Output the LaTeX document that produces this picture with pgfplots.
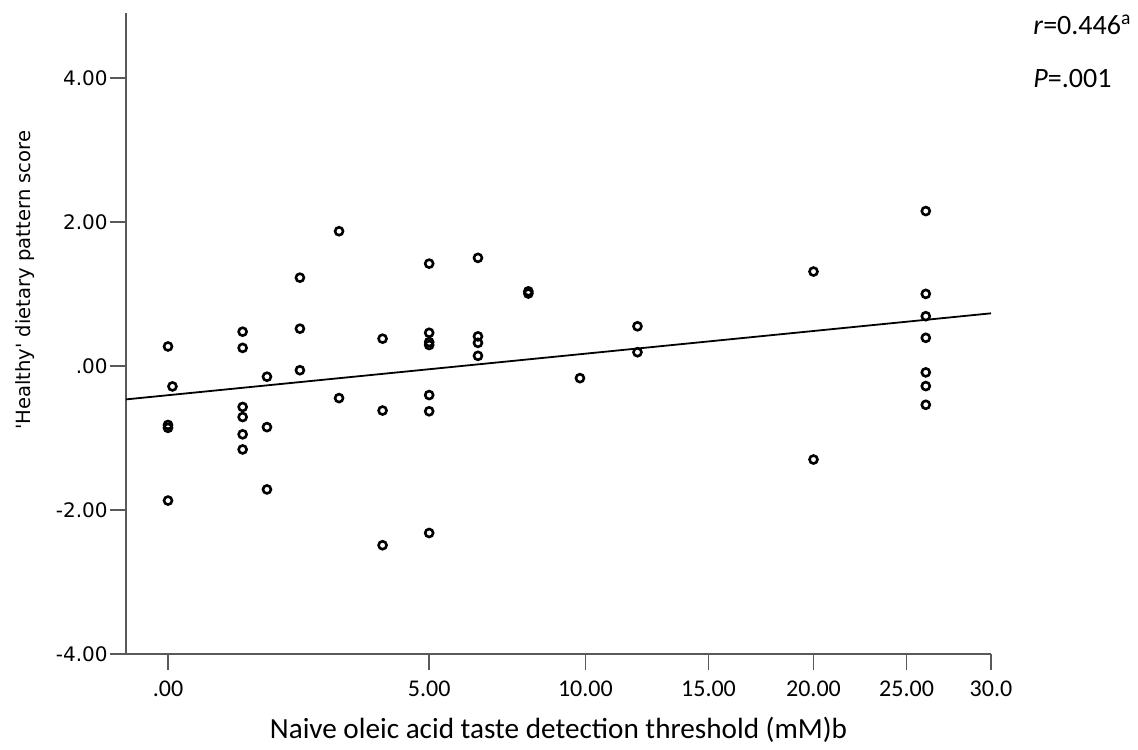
\documentclass[border=0pt]{standalone}
\usepackage{fontspec}
\setmainfont{DejaVu Sans}
\newfontfamily\carlito{Carlito}
\usepackage{pgfplots}
\pgfplotsset{compat=1.18}

% threshold (mM) vs healthy pattern score
\pgfplotstableread[row sep=\\]{
x y\\
0 0.27\\ 0 -0.82\\ 0 -0.86\\ 0 -1.87\\ 0.05 -0.285\\
1 0.475\\ 1 0.25\\ 1 -0.57\\ 1 -0.71\\ 1 -0.95\\ 1 -1.16\\
1.4 -0.15\\ 1.4 -0.85\\ 1.4 -1.715\\
2 1.225\\ 2 0.517\\ 2 -0.06\\
2.8 1.87\\ 2.8 -0.447\\
3.8 0.378\\ 3.8 -0.62\\ 3.8 -2.49\\
5 1.42\\ 5 0.46\\ 5 0.33\\ 5 0.29\\ 5 -0.405\\ 5 -0.63\\ 5 -2.32\\
6.4 1.50\\ 6.4 0.41\\ 6.4 0.32\\ 6.4 0.14\\
8 1.035\\ 8 1.005\\
9.8 -0.17\\
12 0.55\\ 12 0.19\\
20 1.31\\ 20 -1.30\\
26.1 2.15\\ 26.1 1.00\\ 26.1 0.69\\ 26.1 0.39\\ 26.1 -0.09\\ 26.1 -0.28\\ 26.1 -0.54\\
}\pts

\begin{document}
\begin{tikzpicture}
\begin{axis}[
  scale only axis, width=432.5pt, height=320.5pt,
  x coord trafo/.code={\pgfmathparse{sqrt(#1+1)}},
  x coord inv trafo/.code={\pgfmathparse{(#1)*(#1)-1}},
  xmin=-0.412, xmax=30, ymin=-4, ymax=4.9,
  axis x line=bottom, axis y line=left,
  axis line style={-, draw=black!65, line width=0.8pt},
  tick align=outside, major tick length=8pt,
  tick style={draw=black!65, line width=0.8pt},
  xtick={0,5,10,15,20,25,30},
  xticklabels={.00,5.00,10.00,15.00,20.00,25.00,30.0},
  ytick={-4,-2,0,2,4},
  yticklabels={-4.00,-2.00,.00,2.00,4.00},
  x tick label style={font=\carlito\fontsize{12}{14}\selectfont, yshift=-2pt},
  y tick label style={font=\fontsize{10}{12}\selectfont, inner sep=1pt},
  clip=false,
]
\addplot[black, line width=0.9pt] coordinates {(-0.412,-0.465) (30,0.730)};
\addplot[only marks, mark=o, mark size=2pt, mark options={line width=1.3pt}, black] table[x=x, y=y] {\pts};

\node[rotate=90, font=\fontsize{9.8}{11}\selectfont] at ([xshift=-50.5pt]rel axis cs:0,0.583) {\textquotesingle Healthy\textquotesingle{} dietary pattern score};
\node[font=\carlito\fontsize{14.6}{16}\selectfont] at ([yshift=-38pt]rel axis cs:0.5,0) {Naive oleic acid taste detection threshold (mM)b};
\node[anchor=base west, inner sep=0pt, font=\carlito\fontsize{14}{16}\selectfont] at ([xshift=21pt]rel axis cs:1,0.966) {\textit{r}=0.446\textsuperscript{a}};
\node[anchor=base west, inner sep=0pt, font=\carlito\fontsize{14}{16}\selectfont] at ([xshift=21pt]rel axis cs:1,0.883) {\textit{P}=.001};
\coordinate (sw) at (rel axis cs:0,0);
\coordinate (ne) at (rel axis cs:1,1);
\end{axis}
\path ([shift={(-63pt,-44pt)}]sw) rectangle ([shift={(73.5pt,6.5pt)}]ne);
\end{tikzpicture}
\end{document}
